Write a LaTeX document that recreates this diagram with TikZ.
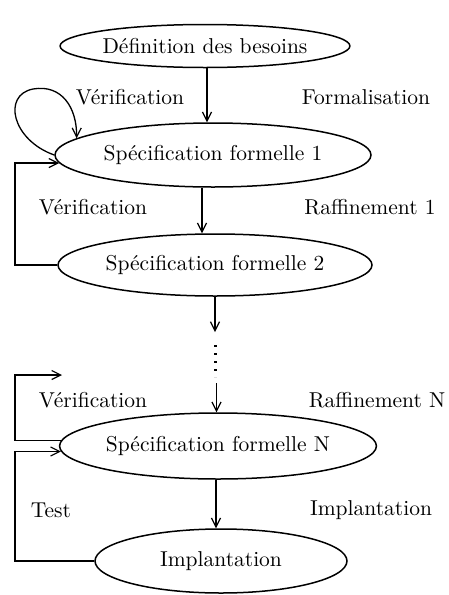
\documentclass[tikz,border=0pt]{standalone}
\usepackage{graphicx}
\usetikzlibrary{shapes.geometric,arrows.meta}
\newcommand{\sctxt}[1]{\scalebox{2.15}{#1}}
\tikzset{
  arr/.style={line width=1.3pt,-{Straight Barb[length=9pt,width=9pt,line width=1.2pt]}},
  ell/.style={ellipse,draw,line width=1.5pt,inner sep=0pt},
  lab/.style={inner sep=0pt,anchor=center}
}
\begin{document}
\begin{tikzpicture}[x=1pt,y=-1pt]
\useasboundingbox (0,0) rectangle (449,595);
% ellipses
\node[ell,minimum width=252pt,minimum height=43pt] (d) at (205,46) {\sctxt{Définition des besoins}};
\node[ell,minimum width=316pt,minimum height=64pt] (s1) at (213,155) {\sctxt{Spécification formelle 1}};
\node[ell,minimum width=314pt,minimum height=62pt] (s2) at (215,265) {\sctxt{Spécification formelle 2}};
\node[ell,minimum width=312pt,minimum height=66pt] (sN) at (218,446) {\sctxt{Spécification formelle N}};
\node[ell,minimum width=252pt,minimum height=64pt] (impl) at (221,561) {\sctxt{Implantation}};
% labels
\node[lab] (v1) at (130,97) {\sctxt{Vérification}};
\node[lab] (form) at (366,97) {\sctxt{Formalisation}};
\node[lab] (v2) at (93,207) {\sctxt{Vérification}};
\node[lab] (r1) at (370,207) {\sctxt{Raffinement 1}};
\node[lab] (v3) at (93,400) {\sctxt{Vérification}};
\node[lab] (rN) at (377,400) {\sctxt{Raffinement N}};
\node[lab] (test) at (51,510) {\sctxt{Test}};
\node[lab] (implab) at (371,510) {\sctxt{Implantation}};
% helper coordinates
\coordinate (lx) at (15,0);
\coordinate (lp) at (33,89);
\coordinate (dtop) at (215,332);
\coordinate (dots1) at (215.5,345);
\coordinate (dots2) at (215.5,377);
\coordinate (a4s) at (216.5,383);
\coordinate (v3end) at (62,375);
% vertical arrows
\draw[arr] ([xshift=2pt]d.south) -- ([xshift=2pt]d.south |- s1.north);
\draw[arr] ([xshift=-11pt]s1.south) -- ([xshift=-11pt]s1.south |- s2.north);
\draw[arr] (s2.south) -- (dtop);
\draw[line width=2.4pt,dash pattern=on 2.4pt off 5.6pt] (dots1) -- (dots2);
\draw[arr] (a4s) -- (a4s |- sN.north);
\draw[arr] ([xshift=-2pt]sN.south) -- ([xshift=-2pt]sN.south |- impl.north);
% self loop
\draw[arr] (s1.west) .. controls (12,140) and (2,95) .. (lp) .. controls (62,84) and (77,108) .. (s1.173);
% feedback loops
\draw[arr] (s2.west) -- (s2.west -| lx) |- (s1.183);
\draw[arr] (sN.178) -- (sN.178 -| lx) |- (v3end);
\draw[arr] (impl.west) -- (impl.west -| lx) |- (sN.182);
\end{tikzpicture}
\end{document}
